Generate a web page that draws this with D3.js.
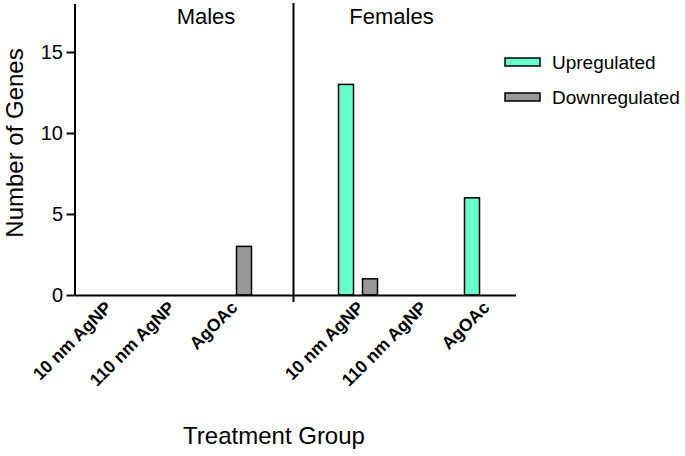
<!DOCTYPE html>
<html><head><meta charset="utf-8">
<script src="https://cdn.jsdelivr.net/npm/d3@7"></script>
<style>body{margin:0;background:#fff}svg{display:block;font-family:"Liberation Sans",Arial,sans-serif}</style>
</head><body><svg id="c" width="685" height="456"></svg>
<script>
const sexes = ["Males", "Females"];
const treatments = ["10 nm AgNP", "110 nm AgNP", "AgOAc"];
const seriesNames = ["Upregulated", "Downregulated"];
const maleUp = [0, 0, 0];
const maleDown = [0, 0, 3];
const femaleUp = [13, 0, 6];
const femaleDown = [1, 0, 0];
const yTicks = [0, 5, 10, 15];
const colors = ["#66FFCC", "#999999"];

const svg = d3.select("#c");
const slots = ["M0","M1","M2","gap","F0","F1","F2"];
const x = d3.scaleBand().domain(slots).range([74.5, 515.5]).paddingInner(0).paddingOuter(0);
const xs = d3.scaleBand().domain(seriesNames).range([-19.5, 19.5]).paddingInner(0.375).paddingOuter(0);
const y = d3.scaleLinear().domain([0, 18]).range([295, 3.4]);

const rows = [];
treatments.forEach((t, i) => {
  rows.push({slot: "M" + i, label: t, vals: [maleUp[i], maleDown[i]]});
});
treatments.forEach((t, i) => {
  rows.push({slot: "F" + i, label: t, vals: [femaleUp[i], femaleDown[i]]});
});

// bars
rows.forEach(r => {
  const cx = x(r.slot) + x.bandwidth() / 2;
  r.vals.forEach((v, k) => {
    if (v <= 0) return;
    svg.append("rect")
      .attr("x", cx + xs(seriesNames[k]))
      .attr("y", y(v))
      .attr("width", xs.bandwidth())
      .attr("height", y(0) - y(v))
      .attr("fill", colors[k])
      .attr("stroke", "#000")
      .attr("stroke-width", 1.5);
  });
});

// y axis
const yAxis = svg.append("g").attr("transform", "translate(74.5,0)")
  .call(d3.axisLeft(y).tickValues(yTicks).tickSize(8).tickPadding(3.5).tickSizeOuter(0));
yAxis.select(".domain").attr("stroke", "#000").attr("stroke-width", 2);
yAxis.selectAll(".tick line").attr("stroke", "#000").attr("stroke-width", 2);
yAxis.selectAll(".tick text").attr("font-size", 20).attr("fill", "#000")
  .attr("font-family", "Liberation Sans, Arial, sans-serif");

// x axis baseline
const xAxis = svg.append("g").attr("transform", "translate(0," + y(0) + ")")
  .call(d3.axisBottom(x).tickValues([]).tickSizeOuter(0));
xAxis.select(".domain").attr("stroke", "#000").attr("stroke-width", 2);

// separator
const sepX = x("gap") + x.bandwidth() / 2 - 1.5;
svg.append("line").attr("x1", sepX).attr("x2", sepX).attr("y1", 3).attr("y2", y(0) + 7)
  .attr("stroke", "#000").attr("stroke-width", 2);

// category labels
rows.forEach(r => {
  const cx = x(r.slot) + x.bandwidth() / 2;
  svg.append("text")
    .attr("transform", `translate(${cx - 2},${y(0) + 5}) rotate(-45)`)
    .attr("text-anchor", "end")
    .attr("dy", "0.7em")
    .attr("font-size", 17.5).attr("font-weight", "bold")
    .text(r.label);
});

// panel titles
svg.append("text").attr("x", 206).attr("y", 23.5).attr("text-anchor", "middle").attr("font-size", 22).text(sexes[0]);
svg.append("text").attr("x", 391.5).attr("y", 23.5).attr("text-anchor", "middle").attr("font-size", 22).text(sexes[1]);

// axis titles
svg.append("text").attr("transform", "translate(23,143) rotate(-90)").attr("text-anchor", "middle")
  .attr("font-size", 24).text("Number of Genes");
svg.append("text").attr("x", 274).attr("y", 444).attr("text-anchor", "middle")
  .attr("font-size", 24).text("Treatment Group");

// legend
seriesNames.forEach((s, k) => {
  const ly = 58 + k * 35;
  svg.append("rect").attr("x", 505).attr("y", ly).attr("width", 35).attr("height", 8)
    .attr("fill", colors[k]).attr("stroke", "#000").attr("stroke-width", 1.5);
  svg.append("text").attr("x", 552).attr("y", ly + 10.5)
    .attr("font-size", 19).text(s);
});
</script></body></html>
